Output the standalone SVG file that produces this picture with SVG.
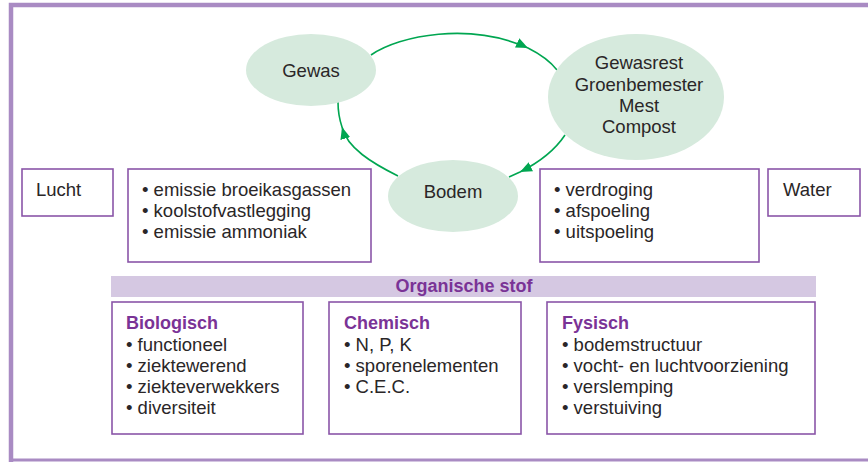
<svg xmlns="http://www.w3.org/2000/svg" width="868" height="462" viewBox="0 0 868 462">
<defs>
<marker id="ah" viewBox="0 0 12 10" refX="12" refY="5" markerWidth="12" markerHeight="10" markerUnits="userSpaceOnUse" orient="auto">
<path d="M0,0 L12,5 L0,10 Z" fill="#00a651"/>
</marker>
<style>
text{font-family:"Liberation Sans",Arial,sans-serif;font-size:18.5px;fill:#2a2627}
.ell{fill:#d6eadd}
.box{fill:#fff;stroke:#8a55a8;stroke-width:1.6}
.hd{font-weight:bold;fill:#7a3396;font-size:18px}
.conn{fill:none;stroke:#00a651;stroke-width:1.6;marker-mid:url(#ah)}
</style>
</defs>
<rect x="0" y="0" width="868" height="462" fill="#fff"/>
<path d="M11,462 V5 H868" fill="none" stroke="#a98bc3" stroke-width="4.5"/>
<path d="M9,460 H868" fill="none" stroke="#a98bc3" stroke-width="3"/>

<g id="connectors">
<path class="conn" d="M371,55 C400,35 470,22 528,48 C540,54 550,61 557,70"/>
<path class="conn" d="M565,135 C555,150 540,162 520,172 L509,177"/>
<path class="conn" d="M398,176 C372,163 347,148 342,127 C339,118 338,110 338,102"/>
</g>

<g id="gewas">
<ellipse class="ell" cx="311" cy="70" rx="65" ry="36"/>
<text x="311" y="77" text-anchor="middle">Gewas</text>
</g>
<g id="gewasrest">
<ellipse class="ell" cx="636" cy="97" rx="88" ry="63"/>
<text x="639" y="69" text-anchor="middle">Gewasrest</text>
<text x="639" y="91" text-anchor="middle">Groenbemester</text>
<text x="639" y="112" text-anchor="middle">Mest</text>
<text x="639" y="133" text-anchor="middle">Compost</text>
</g>
<g id="bodem">
<ellipse class="ell" cx="453" cy="196" rx="65" ry="36"/>
<text x="453" y="198" text-anchor="middle">Bodem</text>
</g>

<g id="lucht">
<rect class="box" x="22" y="169" width="91" height="47"/>
<text x="36" y="196">Lucht</text>
</g>
<g id="lucht-effecten">
<rect class="box" x="128" y="169" width="243" height="93"/>
<text x="142" y="196">• emissie broeikasgassen</text>
<text x="142" y="217">• koolstofvastlegging</text>
<text x="142" y="238">• emissie ammoniak</text>
</g>
<g id="water-effecten">
<rect class="box" x="540" y="169" width="219" height="93"/>
<text x="554" y="196">• verdroging</text>
<text x="554" y="217">• afspoeling</text>
<text x="554" y="238">• uitspoeling</text>
</g>
<g id="water">
<rect class="box" x="768" y="169" width="92" height="47"/>
<text x="783" y="196">Water</text>
</g>

<g id="organische-stof">
<rect x="111" y="276" width="705" height="21" fill="#d5c8e2"/>
<text class="hd" x="464" y="292" text-anchor="middle">Organische stof</text>
</g>

<g id="biologisch">
<rect class="box" x="112" y="302" width="191" height="132"/>
<text class="hd" x="126" y="329">Biologisch</text>
<text x="126" y="351">• functioneel</text>
<text x="126" y="372">• ziektewerend</text>
<text x="126" y="393">• ziekteverwekkers</text>
<text x="126" y="414">• diversiteit</text>
</g>
<g id="chemisch">
<rect class="box" x="329" y="302" width="192" height="132"/>
<text class="hd" x="344" y="329">Chemisch</text>
<text x="344" y="351">• N, P, K</text>
<text x="344" y="372">• sporenelementen</text>
<text x="344" y="393">• C.E.C.</text>
</g>
<g id="fysisch">
<rect class="box" x="547" y="302" width="268" height="132"/>
<text class="hd" x="562" y="329">Fysisch</text>
<text x="562" y="351">• bodemstructuur</text>
<text x="562" y="372">• vocht- en luchtvoorziening</text>
<text x="562" y="393">• verslemping</text>
<text x="562" y="414">• verstuiving</text>
</g>
</svg>
